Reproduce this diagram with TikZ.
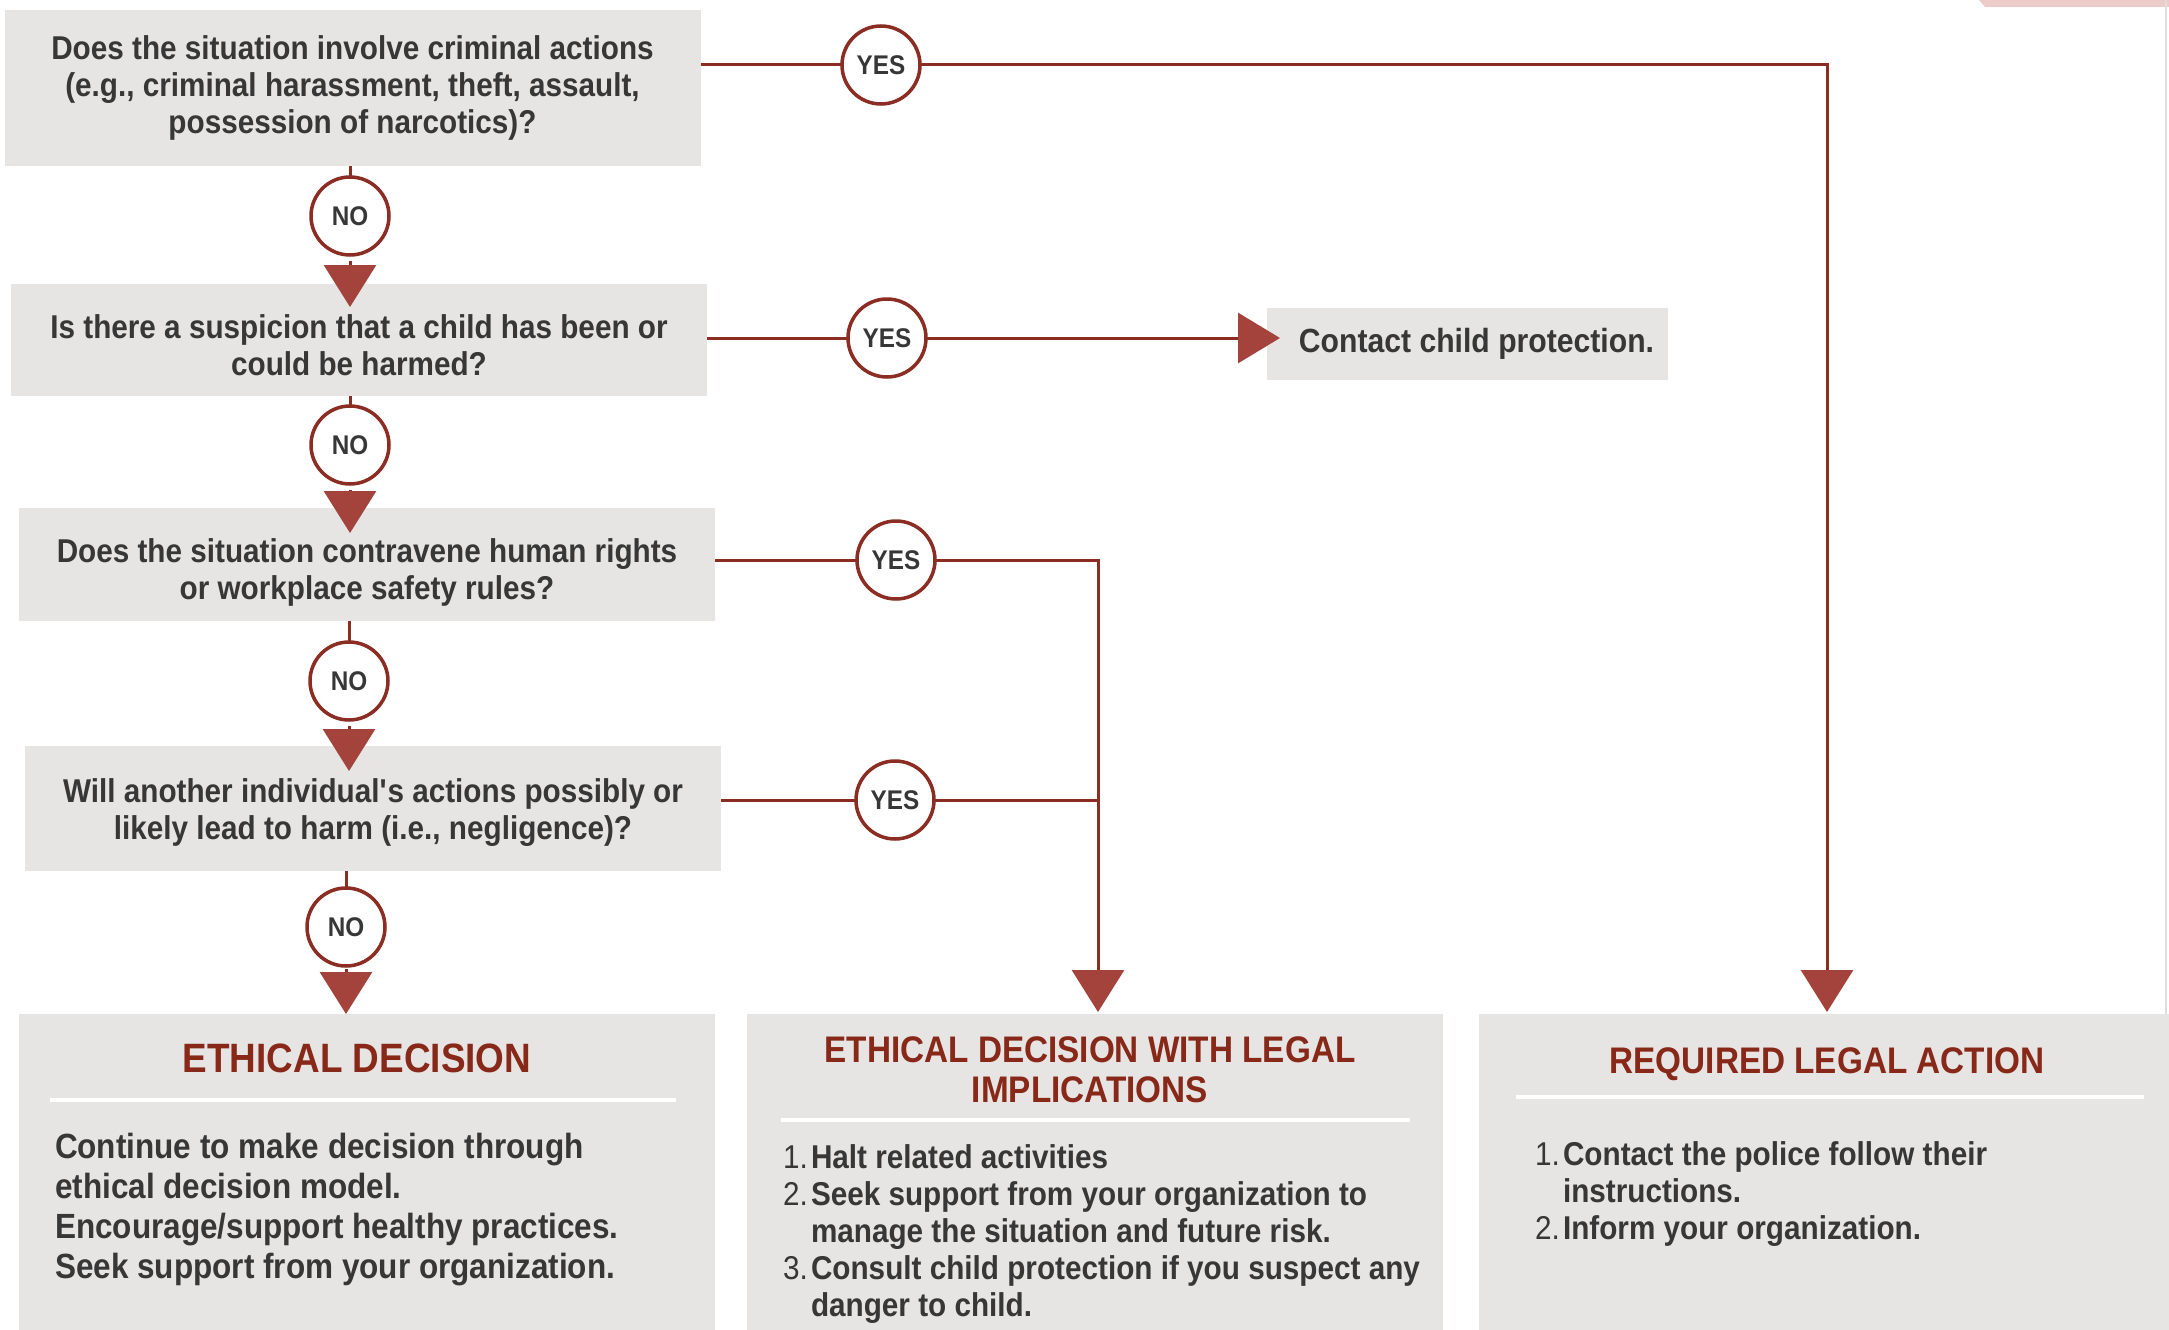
\documentclass[tikz,border=0pt]{standalone}
\usepackage{fontspec}
\setmainfont{Liberation Sans}[FakeStretch=0.9]
\usetikzlibrary{arrows.meta,calc}

\definecolor{cPanel}{RGB}{230,229,228}
\definecolor{cWire}{RGB}{139,45,35}
\definecolor{cTip}{RGB}{163,67,60}
\definecolor{cHead}{RGB}{135,40,25}
\definecolor{cInk}{RGB}{55,55,55}
\definecolor{cPink}{RGB}{236,204,200}
\definecolor{cFaint}{RGB}{222,222,222}

\begin{document}
\begin{tikzpicture}[x=1pt,y=-1pt,
  every node/.style={inner sep=0pt,outer sep=0pt,text=cInk},
  qbox/.style={fill=cPanel,minimum width=696pt},
  qtext/.style={align=center,font=\fontsize{33}{37}\selectfont\bfseries},
  panelbox/.style={fill=cPanel,minimum width=696pt,minimum height=340pt},
  answer/.style={circle,draw=cWire,line width=3.5pt,fill=white,minimum size=78pt,
    font=\fontsize{27}{29}\selectfont\bfseries},
  link/.style={draw=cWire,line width=3pt},
  downtip/.style={-{Triangle[width=52pt,length=42pt,color=cTip]}},
  sidetip/.style={-{Triangle[width=50pt,length=42pt,color=cTip]}},
  heading/.style={text=cHead,align=center},
  listtext/.style={anchor=north west,font=\fontsize{33}{37}\selectfont\bfseries},
  divider/.style={draw=white,line width=4pt}
]
\clip (0,0) rectangle (2169,1330);
\fill[white] (0,0) rectangle (2169,1330);

% corner decorations
\fill[cPink] (1979,0) -- (2169,0) -- (2169,7) -- (1985,7) -- cycle;
\draw[cFaint,line width=2pt] (2166,0) -- (2166,1014);

% question boxes
\node[qbox,minimum height=156pt] (q1) at (352.5,88) {};
\node[qtext] (q1text) at (q1)
  {Does the situation involve criminal actions\\(e.g., criminal harassment, theft, assault,\\possession of narcotics)?};
\node[qbox,minimum height=112pt] (q2) at (359,340) {};
\node[qtext] (q2text) at ($(q2)+(0,5)$)
  {Is there a suspicion that a child has been or\\could be harmed?};
\node[qbox,minimum height=113pt] (q3) at (367,564.5) {};
\node[qtext] (q3text) at ($(q3)+(0,8)$)
  {Does the situation contravene human rights\\or workplace safety rules?};
\node[qbox,minimum height=125pt] (q4) at (373,808.5) {};
\node[qtext] (q4text) at ($(q4)+(0,4)$)
  {Will another individual\textquotesingle s actions possibly or\\likely lead to harm (i.e., negligence)?};

% side outcome
\node[fill=cPanel,minimum width=401pt,minimum height=72pt] (contact) at (1467.5,344) {};
\node[font=\fontsize{33.5}{37}\selectfont\bfseries] (contacttext) at ($(contact)+(9,0)$) {Contact child protection.};

% outcome panels
\node[panelbox] (ethical) at (367,1184) {};
\node[panelbox] (legalimp) at (1095,1184) {};
\node[panelbox,minimum width=700pt] (legalreq) at (1829,1184) {};

% answer circles
\node[answer] (yes1) at (881,65) {YES};
\node[answer] (yes2) at (887,338) {YES};
\node[answer] (yes3) at (896,560) {YES};
\node[answer] (yes4) at (895,800) {YES};
\node[answer] (no1) at (350,216) {NO};
\node[answer] (no2) at (350,445) {NO};
\node[answer] (no3) at (349,681) {NO};
\node[answer] (no4) at (346,927) {NO};

% arrow end points
\coordinate (tipR) at (1827,1012);
\coordinate (tipM) at (1098,1012);
\coordinate (tipC) at (1280,340);

% NO branch
\draw[link] (q1.south -| no1) -- (no1.north);
\draw[link] (q2.south -| no2) -- (no2.north);
\draw[link] (q3.south -| no3) -- (no3.north);
\draw[link] (q4.south -| no4) -- (no4.north);
\draw[link,downtip,shorten <=6pt] (no1.south) -- ($(q2.north -| no1)+(0,23)$);
\draw[link,downtip,shorten <=6pt] (no2.south) -- ($(q3.north -| no2)+(0,25)$);
\draw[link,downtip,shorten <=6pt] (no3.south) -- ($(q4.north -| no3)+(0,25)$);
\draw[link,downtip,shorten <=3pt] (no4.south) -- (ethical.north -| no4);

% YES branch
\draw[link] (yes1 -| q1.east) -- (yes1.west);
\draw[link] (yes2 -| q2.east) -- (yes2.west);
\draw[link] (yes3 -| q3.east) -- (yes3.west);
\draw[link] (yes4 -| q4.east) -- (yes4.west);
\draw[link,downtip] (yes1.east) -| (tipR);
\draw[link,sidetip] (yes2.east) -- (yes2.east -| tipC);
\draw[link,downtip] (yes3.east) -| (tipM);
\draw[link] (yes4.east) -- (yes4.east -| tipM);

% panel contents
\node[heading,font=\fontsize{41}{44}\selectfont\bfseries] (ethtitle) at (357,1058) {ETHICAL DECISION};
\draw[divider] (50,1100) -- (676,1100);
\node[anchor=north west,font=\fontsize{35}{40}\selectfont\bfseries] (ethtext) at (55,1130)
  {\begin{tabular}{@{}l@{}}
   Continue to make decision through\\
   ethical decision model.\\
   Encourage/support healthy practices.\\
   Seek support from your organization.
   \end{tabular}};

\node[heading,font=\fontsize{37}{40}\selectfont\bfseries] (imptitle) at (1090,1070)
  {ETHICAL DECISION WITH LEGAL\\IMPLICATIONS};
\draw[divider] (781,1120) -- (1410,1120);
\node[listtext] (imptext) at (783,1143)
  {\begin{tabular}{@{}p{28pt}@{}l@{}}
   \mdseries 1. & Halt related activities\\
   \mdseries 2. & Seek support from your organization to\\
    & manage the situation and future risk.\\
   \mdseries 3. & Consult child protection if you suspect any\\
    & danger to child.
   \end{tabular}};

\node[heading,font=\fontsize{37}{40}\selectfont\bfseries] (reqtitle) at (1827,1064) {REQUIRED LEGAL ACTION};
\draw[divider] (1516,1097) -- (2144,1097);
\node[listtext] (reqtext) at (1535,1140)
  {\begin{tabular}{@{}p{28pt}@{}l@{}}
   \mdseries 1. & Contact the police follow their\\
    & instructions.\\
   \mdseries 2. & Inform your organization.
   \end{tabular}};
\end{tikzpicture}
\end{document}
